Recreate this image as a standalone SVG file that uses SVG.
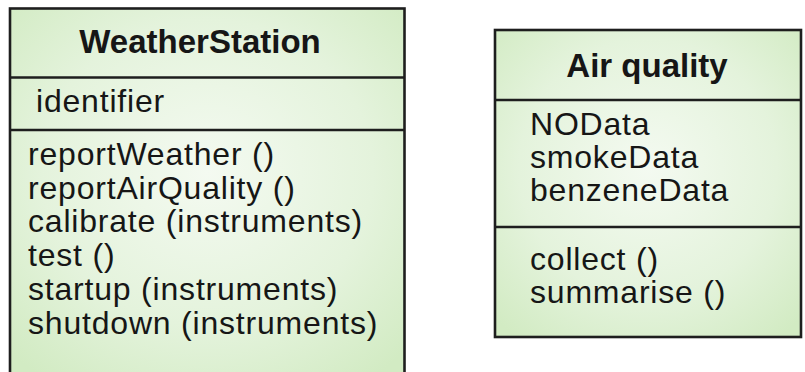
<svg xmlns="http://www.w3.org/2000/svg" width="805" height="372" viewBox="0 0 805 372">
  <defs>
    <radialGradient id="classFill" cx="50%" cy="45%" r="70%">
      <stop offset="0" stop-color="#f4faf1"/>
      <stop offset="0.6" stop-color="#e4f3dc"/>
      <stop offset="1" stop-color="#d2ebc3"/>
    </radialGradient>
  </defs>
  <style>
    .box { fill: url(#classFill); stroke: #1e1e1e; stroke-width: 2.6; }
    .rule { stroke: #1e1e1e; stroke-width: 2.6; fill: none; }
    .title { font-family: "Liberation Sans", Arial, sans-serif; font-size: 33px; font-weight: bold; fill: #161616; }
    .item { font-family: "Liberation Sans", Arial, sans-serif; font-size: 32px; letter-spacing: 0.8px; fill: #161616; }
  </style>
  <rect width="805" height="372" fill="#ffffff"/>

  <!-- WeatherStation class -->
  <g id="weather-station">
    <rect class="box" x="10" y="8.5" width="394.5" height="365"/>
    <line class="rule" x1="10" y1="77.5" x2="404.5" y2="77.5"/>
    <line class="rule" x1="10" y1="130" x2="404.5" y2="130"/>
    <text class="title" x="200" y="53" text-anchor="middle">WeatherStation</text>
    <text class="item" x="36" y="112">identifier</text>
    <text class="item" x="28" y="165">reportWeather ()</text>
    <text class="item" x="28" y="198.5">reportAirQuality ()</text>
    <text class="item" x="28" y="232">calibrate (instruments)</text>
    <text class="item" x="28" y="266">test ()</text>
    <text class="item" x="28" y="300">startup (instruments)</text>
    <text class="item" x="28" y="333.5">shutdown (instruments)</text>
  </g>

  <!-- Air quality class -->
  <g id="air-quality">
    <rect class="box" x="495" y="30" width="306" height="307"/>
    <line class="rule" x1="495" y1="100" x2="801" y2="100"/>
    <line class="rule" x1="495" y1="227" x2="801" y2="227"/>
    <text class="title" x="647" y="77" text-anchor="middle">Air quality</text>
    <text class="item" x="530" y="135">NOData</text>
    <text class="item" x="530" y="168">smokeData</text>
    <text class="item" x="530" y="201">benzeneData</text>
    <text class="item" x="530" y="270">collect ()</text>
    <text class="item" x="530" y="303">summarise ()</text>
  </g>

  <!-- no associations between the classes -->
  <g id="connectors"/>
</svg>
